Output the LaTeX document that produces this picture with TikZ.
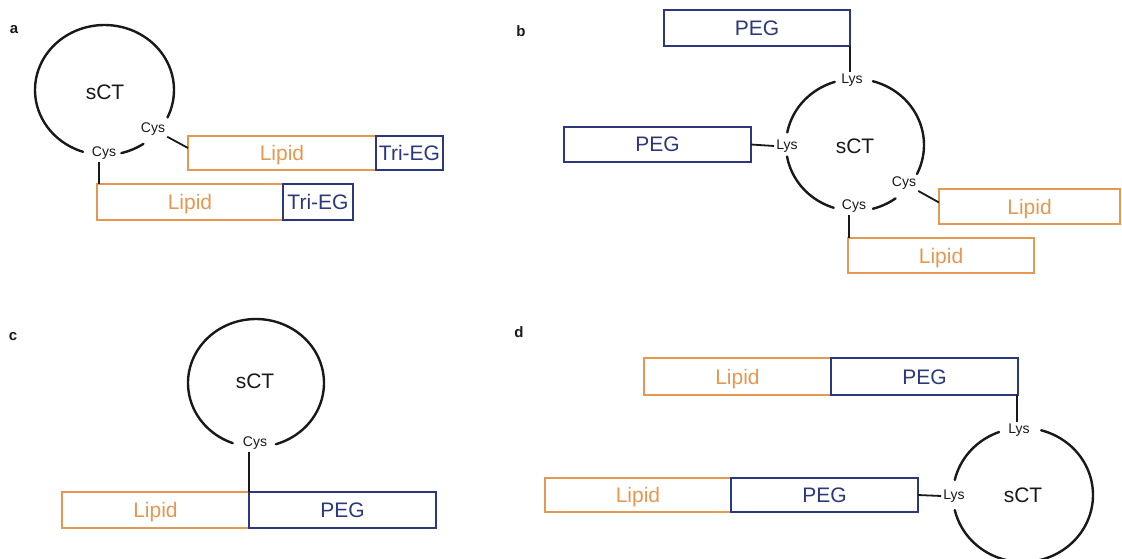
\documentclass[tikz,border=0pt]{standalone}
\usepackage{fontspec}
\setmainfont{Liberation Sans}
\usetikzlibrary{calc}
\definecolor{lipc}{RGB}{229,152,82}
\definecolor{pegc}{RGB}{44,56,122}
\definecolor{inkc}{RGB}{25,25,25}
\begin{document}
\begin{tikzpicture}[x=1pt,y=-1pt,
  lip/.style={draw=lipc, text=lipc, line width=1.8pt, inner sep=0pt, outer sep=0pt, anchor=north west,
    font=\fontsize{21}{21}\selectfont, text height=15pt, text depth=0pt},
  peg/.style={lip, draw=pegc, text=pegc},
  res/.style={font=\fontsize{14}{14}\selectfont, inner sep=2pt, text=inkc},
  sct/.style={font=\fontsize{21}{21}\selectfont, text=inkc},
  ring/.style={draw=inkc, line width=2.4pt, line cap=round},
  link/.style={draw=inkc, line width=1.8pt},
  plab/.style={font=\bfseries\fontsize{15}{15}\selectfont, text=inkc}]
\useasboundingbox (0,0) rectangle (1122,559);
\fill[white] (0,0) rectangle (1122,559);

% ---------------- panel a ----------------
\node[plab] (la) at (14,30) {a};
\draw[ring] plot[domain=108:385, samples=90] ({104.5+69.5*cos(\x)},{90+65*sin(\x)});
\draw[ring] plot[domain=56:76, samples=10] ({104.5+69.5*cos(\x)},{90+65*sin(\x)});
\node[sct] (sctA) at (105,92) {sCT};
\node[res] (cysA1) at (153,129) {Cys};
\node[res] (cysA2) at (104,153) {Cys};
\node[lip, minimum width=188pt, minimum height=34pt] (aL1) at (188,136) {Lipid};
\node[peg, minimum width=67pt, minimum height=34pt] (aT1) at (aL1.north east) {Tri-EG};
\node[lip, minimum width=186pt, minimum height=36pt] (aL2) at (97,184) {Lipid};
\node[peg, minimum width=70pt, minimum height=36pt] (aT2) at (aL2.north east) {Tri-EG};
\draw[link] (cysA1) -- ([yshift=5pt]aL1.west);
\coordinate (aV) at ([xshift=2pt]aL2.north west);
\draw[link] (aV) -- (aV |- cysA2.south);

% ---------------- panel b ----------------
\node[plab] (lb) at (521,31) {b};
\draw[ring] plot[domain=-75:26, samples=40] ({855+69*cos(\x)},{145+66*sin(\x)});
\draw[ring] plot[domain=54:75, samples=10] ({855+69*cos(\x)},{145+66*sin(\x)});
\draw[ring] plot[domain=108:170, samples=30] ({855+69*cos(\x)},{145+66*sin(\x)});
\draw[ring] plot[domain=191:253, samples=30] ({855+69*cos(\x)},{145+66*sin(\x)});
\node[sct] (sctB) at (855,146) {sCT};
\node[res] (lysB1) at (852,80) {Lys};
\node[res] (lysB2) at (787,146) {Lys};
\node[res] (cysB1) at (904,183) {Cys};
\node[res] (cysB2) at (854,206) {Cys};
\node[peg, minimum width=186pt, minimum height=36pt] (bP1) at (664,10) {PEG};
\node[peg, minimum width=187pt, minimum height=35pt] (bP2) at (564,127) {PEG};
\node[lip, minimum width=181pt, minimum height=35pt] (bL1) at (939,189) {Lipid};
\node[lip, minimum width=186pt, minimum height=35pt] (bL2) at (848,238) {Lipid};
\draw[link] (bP1.south east) -- (bP1.south east |- lysB1.north);
\draw[link] (bP2.east) -- (lysB2.west);
\draw[link] (cysB1) -- ([yshift=4pt]bL1.west);
\coordinate (bV) at ([xshift=1pt]bL2.north west);
\draw[link] (bV) -- (bV |- cysB2.south);

% ---------------- panel c ----------------
\node[plab] (lc) at (13,337) {c};
\draw[ring] plot[domain=110:433, samples=100] ({256+68*cos(\x)},{383+64*sin(\x)});
\node[sct] (sctC) at (255,381) {sCT};
\node[res] (cysC) at (255,443) {Cys};
\node[lip, minimum width=187pt, minimum height=36pt] (cL) at (62,492) {Lipid};
\node[peg, minimum width=187pt, minimum height=36pt] (cP) at (cL.north east) {PEG};
\draw[link] (cL.north east) -- (cL.north east |- cysC.south);

% ---------------- panel d ----------------
\node[plab] (ld) at (519,332) {d};
\draw[ring] plot[domain=285:527, samples=90] ({1023+70*cos(\x)},{495+67*sin(\x)});
\draw[ring] plot[domain=193:250, samples=30] ({1023+70*cos(\x)},{495+67*sin(\x)});
\node[sct] (sctD) at (1023,495) {sCT};
\node[res] (lysD1) at (1019,430) {Lys};
\node[res] (lysD2) at (954,496) {Lys};
\node[lip, minimum width=187pt, minimum height=37pt] (dL1) at (644,358) {Lipid};
\node[peg, minimum width=187pt, minimum height=37pt] (dP1) at (dL1.north east) {PEG};
\node[lip, minimum width=186pt, minimum height=34pt] (dL2) at (545,478) {Lipid};
\node[peg, minimum width=187pt, minimum height=34pt] (dP2) at (dL2.north east) {PEG};
\coordinate (dV) at ([xshift=-1pt]dP1.south east);
\draw[link] (dV) -- (dV |- lysD1.north);
\draw[link] (dP2.east) -- (lysD2.west);
\end{tikzpicture}
\end{document}
